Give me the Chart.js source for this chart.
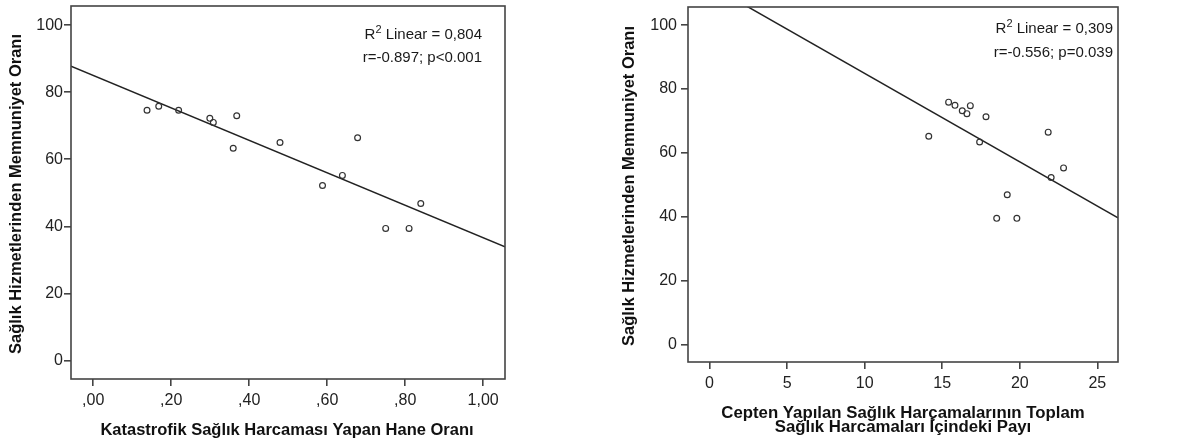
<!DOCTYPE html>
<html>
<head>
<meta charset="utf-8">
<script src="https://cdn.jsdelivr.net/npm/chart.js@4.4.0/dist/chart.umd.min.js"></script>
<style>
  html, body { margin: 0; padding: 0; background: #fff; }
  .box { position: absolute; top: 0; height: 443px; }
  #b1 { left: 0; width: 520px; }
  #b2 { left: 600px; width: 591px; }
</style>
</head>
<body>
<div class="box" id="b1"><canvas id="c1"></canvas></div>
<div class="box" id="b2"><canvas id="c2"></canvas></div>
<script>
// ---- left panel: catastrophic expenditure share vs satisfaction
var CATA_X = [0.138, 0.168, 0.219, 0.299, 0.308, 0.368, 0.359, 0.479, 0.588, 0.639, 0.678, 0.750, 0.810, 0.840];
var CATA_Y = [74.6, 75.8, 74.6, 72.2, 71.0, 73.0, 63.3, 65.0, 52.2, 55.2, 66.4, 39.4, 39.4, 46.8];
var CATA_FIT = [85.0, -48.4];            // intercept, slope
var CATA_XTICKS = [0, 0.2, 0.4, 0.6, 0.8, 1.0];
var CATA_XLABELS = [',00', ',20', ',40', ',60', ',80', '1,00'];
var CATA_XRANGE = [-0.057, 1.056];
var CATA_STATS = ['0,804', 'r=-0.897; p<0.001'];

// ---- right panel: out-of-pocket share vs satisfaction
var OOP_X = [14.13, 15.41, 15.82, 16.29, 16.59, 16.81, 17.82, 17.41, 21.83, 22.82, 22.02, 19.19, 18.51, 19.81];
var OOP_Y = [65.2, 75.9, 74.9, 73.2, 72.3, 74.8, 71.3, 63.4, 66.5, 55.3, 52.3, 46.9, 39.5, 39.5];
var OOP_FIT = [112.6, -2.77];
var OOP_XTICKS = [0, 5, 10, 15, 20, 25];
var OOP_XLABELS = ['0', '5', '10', '15', '20', '25'];
var OOP_XRANGE = [-1.39, 26.33];
var OOP_STATS = ['0,309', 'r=-0.556; p=0.039'];

var Y_TICKS = [0, 20, 40, 60, 80, 100];
var Y_RANGE = [-5.5, 105.7];
var Y_TITLE = 'Sağlık Hizmetlerinden Memnuniyet Oranı';

var FONT = "'Liberation Sans', Arial, sans-serif";
var INK = '#222';

function textPlugin(cfg) {
  return {
    id: 'spssText',
    afterDraw: function (chart) {
      var ctx = chart.ctx, a = chart.chartArea;
      ctx.save();
      // frame round the plot
      ctx.strokeStyle = '#444';
      ctx.lineWidth = 1.6;
      ctx.strokeRect(a.left, a.top, a.right - a.left, a.bottom - a.top);

      // R2 / r annotation, right aligned
      ctx.fillStyle = '#1a1a1a';
      ctx.textBaseline = 'middle';
      ctx.font = '15px ' + FONT;
      var tail = ' Linear = ' + cfg.stats[0];
      var wTail = ctx.measureText(tail).width;
      var wR = ctx.measureText('R').width;
      ctx.font = '11px ' + FONT;
      var w2 = ctx.measureText('2').width;
      var x0 = cfg.annX - wTail - w2 - wR;
      ctx.font = '15px ' + FONT;
      ctx.textAlign = 'left';
      ctx.fillText('R', x0, cfg.annY[0]);
      ctx.fillText(tail, x0 + wR + w2, cfg.annY[0]);
      ctx.font = '11px ' + FONT;
      ctx.fillText('2', x0 + wR, cfg.annY[0] - 5);
      ctx.font = '15px ' + FONT;
      ctx.textAlign = 'right';
      ctx.fillText(cfg.stats[1], cfg.annX, cfg.annY[1]);

      // axis titles
      ctx.fillStyle = '#111';
      ctx.font = 'bold ' + cfg.xTitleSize + 'px ' + FONT;
      ctx.textAlign = 'center';
      cfg.xTitle.forEach(function (t, i) { ctx.fillText(t, cfg.xTitlePos[0], cfg.xTitlePos[1] + i * 14); });
      ctx.font = 'bold 16.5px ' + FONT;
      ctx.translate(cfg.yTitlePos[0], cfg.yTitlePos[1]);
      ctx.rotate(-Math.PI / 2);
      ctx.fillText(Y_TITLE, 0, 0);
      ctx.restore();
    }
  };
}

function makePanel(id, cfg) {
  var pts = cfg.xs.map(function (x, i) { return { x: x, y: cfg.ys[i] }; });
  var fit = [cfg.xRange[0], cfg.xRange[1]].map(function (x) { return { x: x, y: cfg.fit[0] + cfg.fit[1] * x }; });
  var tickFont = { family: FONT, size: 16 };
  var axisLine = { display: true, drawOnChartArea: false, drawTicks: true, color: '#444', lineWidth: 1.6 };
  new Chart(document.getElementById(id).getContext('2d'), {
    type: 'scatter',
    data: {
      datasets: [
        { type: 'scatter', data: pts, pointRadius: 2.9, pointHoverRadius: 2.9, borderWidth: 1.2,
          borderColor: '#333', backgroundColor: 'rgba(255,255,255,0)' },
        { type: 'line', data: fit, borderColor: '#222', borderWidth: 1.5, pointRadius: 0, fill: false }
      ]
    },
    options: {
      animation: false, responsive: true, maintainAspectRatio: false,
      layout: { padding: cfg.pad },
      plugins: { legend: { display: false }, tooltip: { enabled: false } },
      scales: {
        x: {
          type: 'linear', min: cfg.xRange[0], max: cfg.xRange[1],
          afterBuildTicks: function (s) { s.ticks = cfg.xTicks.map(function (v) { return { value: v }; }); },
          afterFit: function (s) { s.height = cfg.xH; s.paddingLeft = 0; s.paddingRight = 0; },
          grid: Object.assign({ tickLength: 7 }, axisLine),
          border: { display: false },
          ticks: { font: tickFont, color: INK, padding: 5, maxRotation: 0, autoSkip: false,
            callback: function (v, i) { return cfg.xLabels[i]; } }
        },
        y: {
          type: 'linear', min: Y_RANGE[0], max: Y_RANGE[1],
          afterBuildTicks: function (s) { s.ticks = Y_TICKS.map(function (v) { return { value: v }; }); },
          afterFit: function (s) { s.width = cfg.yW; s.paddingTop = 0; s.paddingBottom = 0; },
          grid: Object.assign({ tickLength: 7 }, axisLine),
          border: { display: false },
          ticks: { font: tickFont, color: INK, padding: cfg.yPad, autoSkip: false }
        }
      }
    },
    plugins: [textPlugin(cfg)]
  });
}

makePanel('c1', {
  xs: CATA_X, ys: CATA_Y, fit: CATA_FIT, xRange: CATA_XRANGE, xTicks: CATA_XTICKS, xLabels: CATA_XLABELS,
  stats: CATA_STATS, pad: { left: 0, top: 6, right: 15, bottom: 0 }, xH: 64, yW: 71, yPad: 1,
  annX: 482, annY: [35, 58],
  xTitle: ['Katastrofik Sağlık Harcaması Yapan Hane Oranı'], xTitlePos: [287, 430], xTitleSize: 16.5,
  yTitlePos: [16, 194]
});

makePanel('c2', {
  xs: OOP_X, ys: OOP_Y, fit: OOP_FIT, xRange: OOP_XRANGE, xTicks: OOP_XTICKS, xLabels: OOP_XLABELS,
  stats: OOP_STATS, pad: { left: 0, top: 7, right: 73, bottom: 0 }, xH: 81, yW: 88, yPad: 4,
  annX: 513, annY: [29, 53],
  xTitle: ['Cepten Yapılan Sağlık Harçamalarının Toplam', 'Sağlık Harcamaları İçindeki Payı'], xTitlePos: [303, 413], xTitleSize: 16.8,
  yTitlePos: [29, 186]
});
</script>
</body>
</html>
